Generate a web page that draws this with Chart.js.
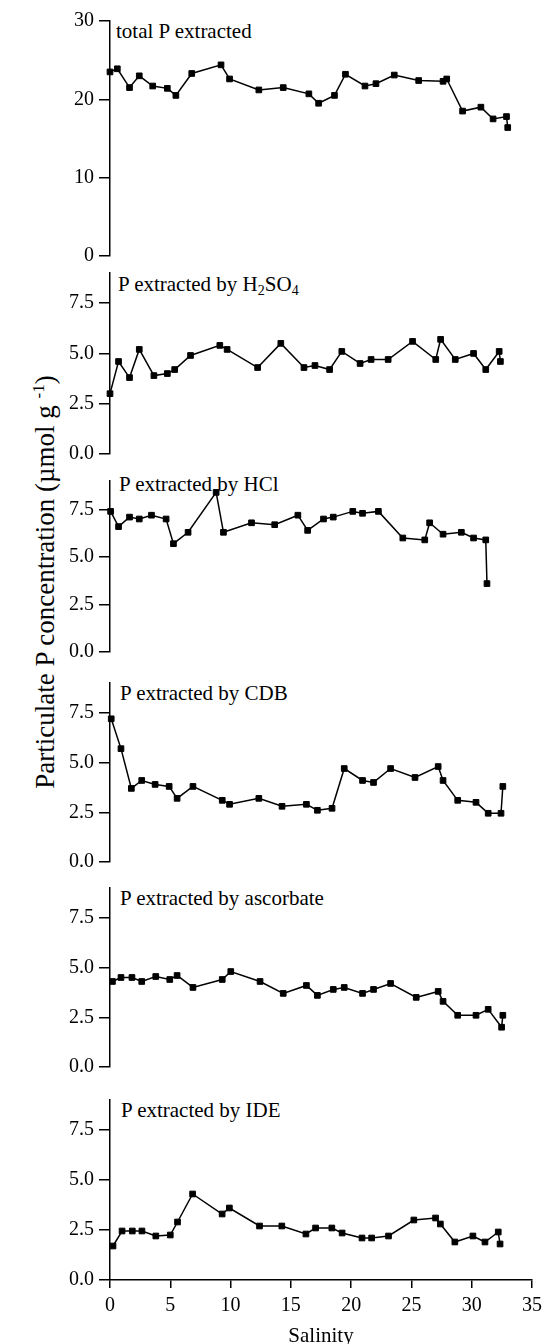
<!DOCTYPE html>
<html>
<head>
<meta charset="utf-8">
<script src="https://cdn.jsdelivr.net/npm/chart.js@4.4.1/dist/chart.umd.min.js"></script>
<style>
	body { margin: 0; background: #fff; width: 548px; height: 1344px; position: relative; overflow: hidden; font-family: 'Liberation Serif', serif; color: #000; }
	.lbl { position: absolute; font-size: 21px; line-height: 1; white-space: nowrap; }
	.lbl sub { font-size: 14px; vertical-align: -4px; line-height: 0; }
	canvas { position: absolute; left: 0; }
	#ytitle { position: absolute; left: 45px; top: 582px; transform: translate(-50%, -50%) rotate(-90deg); font-size: 27px; line-height: 1; white-space: nowrap; }
	#ytitle sup { font-size: 17px; vertical-align: 10px; line-height: 0; }
</style>
</head>
<body>
<div id="ytitle">Particulate P concentration (µmol g <sup>-1</sup>)</div>
<div class="lbl" style="left:116px;top:21px">total P extracted</div>
<div class="lbl" style="left:118px;top:274px">P extracted by H<sub>2</sub>SO<sub>4</sub></div>
<div class="lbl" style="left:119px;top:474px">P extracted by HCl</div>
<div class="lbl" style="left:120px;top:683px">P extracted by CDB</div>
<div class="lbl" style="left:120px;top:888px">P extracted by ascorbate</div>
<div class="lbl" style="left:121px;top:1100px">P extracted by IDE</div>
<script>
// values, one salinity list per panel
const salTotal = [0.0, 0.6, 1.6, 2.4, 3.5, 4.7, 5.4, 6.7, 9.1, 9.8, 12.2, 14.2, 16.3, 17.1, 18.4, 19.3, 20.9, 21.8, 23.3, 25.3, 27.3, 27.6, 28.9, 30.4, 31.4, 32.5, 32.6];
const totalP = [23.5, 23.9, 21.5, 23.0, 21.7, 21.4, 20.5, 23.3, 24.4, 22.6, 21.2, 21.5, 20.7, 19.5, 20.5, 23.2, 21.7, 22.0, 23.1, 22.4, 22.3, 22.6, 18.5, 19.0, 17.5, 17.8, 16.4];

const salH2SO4 = [0.0, 0.7, 1.6, 2.4, 3.6, 4.7, 5.3, 6.6, 9.0, 9.6, 12.1, 14.0, 15.9, 16.8, 18.0, 19.0, 20.5, 21.4, 22.8, 24.8, 26.7, 27.1, 28.3, 29.8, 30.8, 31.9, 32.0];
const pH2SO4 = [3.0, 4.6, 3.8, 5.2, 3.9, 4.0, 4.2, 4.9, 5.4, 5.2, 4.3, 5.5, 4.3, 4.4, 4.2, 5.1, 4.5, 4.7, 4.7, 5.6, 4.7, 5.7, 4.7, 5.0, 4.2, 5.1, 4.6];

const salHCl = [0.05, 0.7, 1.6, 2.4, 3.4, 4.6, 5.2, 6.4, 8.7, 9.3, 11.6, 13.5, 15.4, 16.2, 17.5, 18.3, 19.9, 20.7, 22.0, 24.0, 25.8, 26.2, 27.3, 28.8, 29.8, 30.8, 30.9];
const pHCl = [7.4, 6.6, 7.1, 7.0, 7.2, 7.0, 5.7, 6.3, 8.4, 6.3, 6.8, 6.7, 7.2, 6.4, 7.0, 7.1, 7.4, 7.3, 7.4, 6.0, 5.9, 6.8, 6.2, 6.3, 6.0, 5.9, 3.6];

const salCDB = [0.1, 0.9, 1.75, 2.6, 3.7, 4.85, 5.5, 6.8, 9.2, 9.8, 12.2, 14.1, 16.1, 17.0, 18.2, 19.2, 20.7, 21.6, 23.0, 25.0, 26.9, 27.3, 28.5, 30.0, 31.0, 32.05, 32.2];
const pCDB = [7.2, 5.7, 3.7, 4.1, 3.9, 3.8, 3.2, 3.8, 3.1, 2.9, 3.2, 2.8, 2.9, 2.6, 2.7, 4.7, 4.1, 4.0, 4.7, 4.25, 4.8, 4.1, 3.1, 3.0, 2.45, 2.45, 3.8];

const salAsc = [0.2, 0.9, 1.8, 2.6, 3.75, 4.9, 5.5, 6.8, 9.2, 9.9, 12.3, 14.2, 16.1, 17.0, 18.3, 19.2, 20.7, 21.6, 23.0, 25.1, 26.9, 27.3, 28.5, 30.0, 31.0, 32.1, 32.2];
const pAsc = [4.3, 4.5, 4.5, 4.3, 4.55, 4.4, 4.6, 4.0, 4.4, 4.8, 4.3, 3.7, 4.1, 3.6, 3.9, 4.0, 3.7, 3.9, 4.2, 3.5, 3.8, 3.3, 2.6, 2.6, 2.9, 2.0, 2.6];

const salIDE = [0.25, 1.0, 1.85, 2.65, 3.8, 5.0, 5.6, 6.85, 9.3, 9.9, 12.4, 14.25, 16.25, 17.05, 18.4, 19.25, 20.9, 21.7, 23.1, 25.2, 27.0, 27.4, 28.6, 30.1, 31.1, 32.2, 32.35];
const pIDE = [1.7, 2.45, 2.45, 2.45, 2.2, 2.25, 2.9, 4.3, 3.3, 3.6, 2.7, 2.7, 2.3, 2.6, 2.6, 2.35, 2.1, 2.1, 2.2, 3.0, 3.1, 2.8, 1.9, 2.2, 1.9, 2.4, 1.8];

const totalTicks = [0, 10, 20, 30];
const fractionTicks = [0, 2.5, 5, 7.5];
const salinityTicks = [0, 5, 10, 15, 20, 25, 30, 35];

const FAMILY = 'Liberation Serif, serif';
Chart.defaults.font.family = FAMILY;
Chart.defaults.color = '#000';

const PAD = 16;

// top/bottom = pixel rows of the y axis top and of zero
const panels = [
	{ x: salTotal, y: totalP, ticks: totalTicks, max: 30, dec: 0, top: 20, bottom: 257 },
	{ x: salH2SO4, y: pH2SO4, ticks: fractionTicks, max: 9, dec: 1, top: 272, bottom: 455 },
	{ x: salHCl, y: pHCl, ticks: fractionTicks, max: 9, dec: 1, top: 480, bottom: 653 },
	{ x: salCDB, y: pCDB, ticks: fractionTicks, max: 9, dec: 1, top: 682, bottom: 863 },
	{ x: salAsc, y: pAsc, ticks: fractionTicks, max: 9, dec: 1, top: 887, bottom: 1068 },
	{ x: salIDE, y: pIDE, ticks: fractionTicks, max: 9, dec: 1, top: 1099, bottom: 1280 }
];

function drawPanel(p, i) {
	const last = i === panels.length - 1;
	const top = p.top - PAD;
	const h = last ? 1344 - top : (p.bottom - p.top) + 2 * PAD;
	const canvas = document.createElement('canvas');
	canvas.width = 548;
	canvas.height = h;
	canvas.style.top = top + 'px';
	canvas.style.width = '548px';
	canvas.style.height = h + 'px';
	document.body.appendChild(canvas);

	new Chart(canvas.getContext('2d'), {
		type: 'line',
		data: {
			datasets: [{
				data: p.x.map((s, k) => ({ x: s, y: p.y[k] })),
				borderColor: '#000',
				borderWidth: 1.5,
				pointStyle: 'rect',
				pointRadius: 4,
				pointBackgroundColor: '#000',
				pointBorderColor: '#000',
				pointBorderWidth: 1,
				tension: 0,
				clip: false
			}]
		},
		options: {
			responsive: false,
			animation: false,
			devicePixelRatio: 1,
			layout: { padding: { top: PAD, bottom: last ? 0 : PAD, left: 0, right: 11 } },
			plugins: { legend: { display: false }, tooltip: { enabled: false } },
			scales: {
				x: {
					type: 'linear',
					min: 0,
					max: 35,
					display: last,
					afterFit: s => { s.height = last ? 64 : 0; },
					afterBuildTicks: s => { s.ticks = salinityTicks.map(v => ({ value: v })); },
					ticks: { font: { family: FAMILY, size: 20 }, color: '#000', padding: 6, maxRotation: 0 },
					grid: { drawOnChartArea: false, tickLength: 8, color: '#000', lineWidth: 1.5 },
					border: { color: '#000', width: 1.5 },
					title: { display: true, text: 'Salinity', font: { family: FAMILY, size: 21 }, color: '#000', padding: { top: 2, bottom: -5 } }
				},
				y: {
					min: 0,
					max: p.max,
					afterFit: s => { s.width = 110; },
					afterBuildTicks: s => { s.ticks = p.ticks.map(v => ({ value: v })); },
					ticks: { font: { family: FAMILY, size: 20 }, color: '#000', padding: 5, callback: v => v.toFixed(p.dec) },
					grid: { drawOnChartArea: false, tickLength: 11, color: '#000', lineWidth: 1.5 },
					border: { color: '#000', width: 1.5 }
				}
			}
		}
	});
}

const start = () => panels.forEach(drawPanel);
if (document.fonts && document.fonts.ready) {
	document.fonts.ready.then(start);
} else {
	start();
}
</script>
</body>
</html>
